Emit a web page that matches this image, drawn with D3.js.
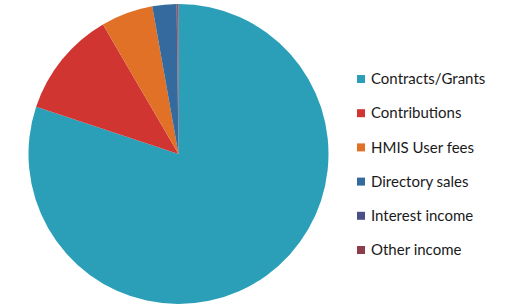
<head>
    <meta name="viewport" content="width=device-width, initial-scale=1">
    <style type="text/css">
        body { margin: 0; background: #fff; }
        text { font-family: Lato, "Open Sans", sans-serif; }
    </style>
    <script src="https://d3js.org/d3.v7.min.js"></script>
</head>
<body>
    <div id="pie">
        <script>
            const width = 519, height = 306;
            const center = [178.5, 154];
            const radius = 150;

            const categories = ["Contracts/Grants", "Contributions", "HMIS User fees", "Directory sales", "Interest income", "Other income"];
            const values = [80.1, 11.5, 5.6, 2.6, 0.05, 0.15];
            const colors = ["#2c9fb8", "#d13532", "#e07127", "#346a9d", "#4a4f87", "#8c3c4b"];

            const data = categories.map((c, i) => ({ name: c, value: values[i] }));

            const svg = d3.select("#pie")
                .append("svg")
                .attr("width", width)
                .attr("height", height);

            const pie = d3.pie()
                .sort(null)
                .value(d => d.value);

            const arc = d3.arc()
                .innerRadius(0)
                .outerRadius(radius);

            const color = d3.scaleOrdinal()
                .domain(categories)
                .range(colors);

            svg.append("g")
                .attr("transform", `translate(${center[0]},${center[1]})`)
                .selectAll("path")
                .data(pie(data))
                .enter().append("path")
                .attr("d", arc)
                .attr("fill", d => color(d.data.name));

            // legend
            const y = d3.scalePoint()
                .domain(categories)
                .range([79, 250]);

            const legend = svg.append("g")
                .selectAll("g")
                .data(categories)
                .enter().append("g")
                .attr("transform", d => `translate(357,${y(d)})`);

            legend.append("rect")
                .attr("x", 0)
                .attr("y", -4)
                .attr("width", 8)
                .attr("height", 8)
                .attr("fill", d => color(d));

            legend.append("text")
                .attr("x", 14)
                .attr("dy", "0.35em")
                .attr("font-size", 15)
                .attr("fill", "#1a1a1a")
                .text(d => d);
        </script>
    </div>
</body>
